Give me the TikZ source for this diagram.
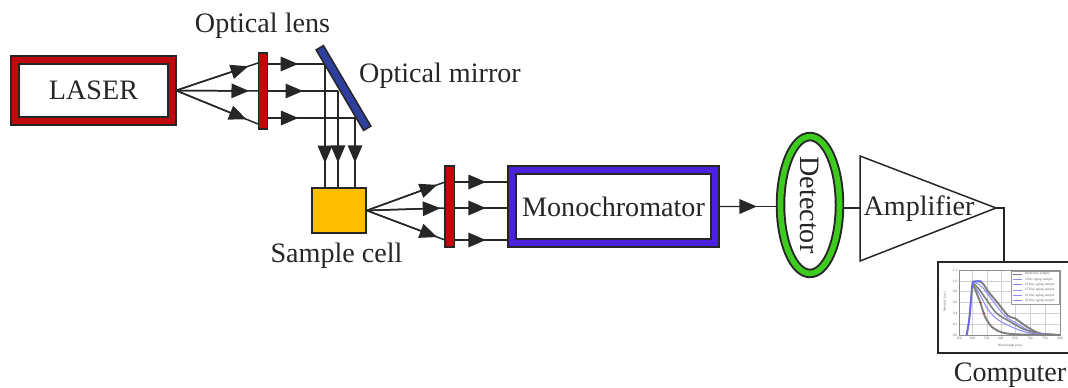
\documentclass[tikz,border=0pt]{standalone}
\usepackage{fontspec}
\setmainfont{Liberation Serif}
\usetikzlibrary{shapes,arrows.meta,calc}
\definecolor{lasered}{HTML}{BE0A0A}
\definecolor{mirrorblue}{HTML}{2F3F9E}
\definecolor{monoblue}{HTML}{4A22DC}
\definecolor{detgreen}{HTML}{3CCB1E}
\definecolor{cellyellow}{HTML}{FFBE00}
\tikzset{every node/.style={align=center,inner sep=0pt,text=black!85}}
\tikzset{band/.style={draw=black!85,line width=1.1pt,double=#1,double distance=3.2pt,fill=white,outer sep=0.08cm}}
\tikzset{lens/.style={rectangle,draw=black!85,fill=lasered,minimum width=0.19cm,minimum height=#1}}
\tikzset{raytip/.style={-{Triangle[length=0.35cm,width=0.29cm]}}}
\tikzset{grid line/.style={draw=black!18,line width=0.2pt}}
\tikzset{tiny/.style={font=\fontsize{2}{2.4}\selectfont,text=black!60}}
\newcommand{\ray}[3]{\draw (#1) -- (#2); \draw[raytip] (#1) -- ($(#1)!#3!(#2)$);}

\begin{document}
\begin{tikzpicture}[x=0.02cm,y=-0.02cm,line width=0.85pt,draw=black!85,font=\fontsize{16}{18}\selectfont]
\useasboundingbox (0,0) rectangle (1068,388);

\coordinate (laup) at (258,63);
\coordinate (lamid) at (258,91);
\coordinate (lalow) at (258,124);
\coordinate (raup) at (268,64);
\coordinate (ramid) at (268,91);
\coordinate (ralow) at (268,118);
\coordinate (mup) at (325,64);
\coordinate (mmid) at (338,91);
\coordinate (mlow) at (355,118);
\coordinate (sup) at (325,188);
\coordinate (smid) at (338,188);
\coordinate (slow) at (355,188);
\coordinate (lbup) at (445,182);
\coordinate (lbmid) at (445,208);
\coordinate (lblow) at (445,240);
\coordinate (rbup) at (454,182);
\coordinate (rbmid) at (454,208);
\coordinate (rblow) at (454,240);
\coordinate (tup) at (508,182);
\coordinate (tmid) at (508,208);
\coordinate (tlow) at (508,240);
\coordinate (ampin) at (860,208);
\coordinate (ampa) at (860,156);
\coordinate (ampb) at (860,261);
\coordinate (ampc) at (996,208);
\coordinate (ampout) at (1004,208);

\node[rectangle,band=lasered,minimum width=3.14cm,minimum height=1.22cm](laser) at (93.5,90.5) {LASER};
\node[rectangle,draw=black!85,fill=cellyellow,minimum width=1.08cm,minimum height=0.9cm](sample) at (339,210.5) {};
\node[rectangle,band=monoblue,minimum width=4.06cm,minimum height=1.46cm](mono) at (613.5,206.5) {Monochromator};
\node[ellipse,band=detgreen,rotate=-90,minimum width=2.48cm,minimum height=1.18cm](detector) at (810,205) {Detector};
\node[rectangle,draw=black!85,fill=white,line width=1.1pt,minimum width=2.64cm,minimum height=1.82cm](computer) at (1004,307.5) {};
\coordinate (detin) at (detector.south |- mono.east);
\coordinate (detout) at (detector.north |- ampin);

\ray{laser.east}{laup}{0.88}
\ray{laser.east}{lamid}{0.89}
\ray{laser.east}{lalow}{0.86}
\ray{raup}{mup}{0.53}
\ray{ramid}{mmid}{0.50}
\ray{ralow}{mlow}{0.35}
\ray{mup}{sup}{0.80}
\ray{mmid}{smid}{0.74}
\ray{mlow}{slow}{0.64}
\ray{sample.east}{lbup}{0.90}
\ray{sample.east}{lbmid}{0.94}
\ray{sample.east}{lblow}{0.90}
\ray{rbup}{tup}{0.59}
\ray{rbmid}{tmid}{0.59}
\ray{rblow}{tlow}{0.59}
\ray{mono.east}{detin}{0.66}
\draw (detout) -- (ampin);
\draw (ampa) -- (ampb) -- (ampc) -- cycle;
\draw (ampc) -- (ampout) -- (computer.north);

\node[lens=1.52cm](lensa) at (263,91) {};
\node[lens=1.62cm](lensb) at (449.5,206.5) {};
\node[rectangle,draw=black!85,fill=mirrorblue,rotate=-59.5,minimum width=1.87cm,minimum height=0.17cm](mirror) at (343.5,88) {};

\node(lenslabel) at (262.5,26) {Optical lens};
\node(mirrorlabel) at (440,76) {Optical mirror};
\node(samplelabel) at (336.5,256) {Sample cell};
\node(amplabel) at (919,209) {Amplifier};
\node(complabel) at (1010,375) {Computer};

\begin{scope}[shift={(930,255)},x=0.00667cm,y=-0.00667cm]
\foreach \x in {127,170,212,255,300,345} \draw[grid line] (\x,45) -- (\x,240);
\foreach \y in {78,110,143,175,208} \draw[grid line] (88,\y) -- (390,\y);
\draw[draw=black!45,line width=0.3pt] (88,45) rectangle (390,240);
\draw[gray,line width=1.1pt] plot[smooth] coordinates {(110,240) (118,190) (127,90) (132,80) (155,82) (175,110) (200,140) (235,183) (255,190) (290,215) (330,235) (390,240)};
\draw[blue!45,line width=0.6pt] plot[smooth] coordinates {(127,90) (135,82) (160,100) (190,140) (225,183) (260,205) (310,232) (390,240)};
\draw[gray,line width=0.9pt] plot[smooth] coordinates {(130,85) (145,100) (170,135) (200,175) (240,200) (280,222) (330,236) (390,240)};
\draw[blue!45,line width=0.6pt] plot[smooth] coordinates {(130,88) (150,120) (175,165) (205,195) (250,218) (300,234) (390,240)};
\draw[gray,line width=1.1pt] plot[smooth] coordinates {(130,90) (150,140) (165,185) (185,215) (215,232) (260,238) (390,240)};
\draw[blue!60,line width=0.8pt] plot[smooth] coordinates {(110,240) (118,190) (127,90) (132,80) (155,78)};
\fill[red!80!black] (152,143) circle (2.5) (162,175) circle (2.5);
\draw[draw=black!40,fill=white,line width=0.3pt] (245,48) rectangle (388,148);
\foreach \y/\t in {57/Reference sample,73/3 Day aging sample,89/10 Day aging sample,105/15 Day aging sample,121/20 Day aging sample,137/30 Day aging sample} \node[tiny,anchor=west](legend\y) at (282,\y) {\t};
\foreach \y in {73,89,105,121,137} \draw[blue!45,line width=0.4pt] (250,\y) -- (276,\y);
\draw[gray,line width=0.5pt] (250,57) -- (276,57);
\foreach \y/\t in {45/1.2,78/1.0,110/0.8,143/0.6,175/0.4,208/0.2,240/0.0} \node[tiny,anchor=east](ytick\y) at (84,\y) {\t};
\foreach \x/\t in {88/450,127/500,170/550,212/600,255/650,300/700,345/750,390/800} \node[tiny](xtick\x) at (\x,250) {\t};
\node[tiny](xname) at (240,272) {Wavelength (nm)};
\node[tiny,rotate=90](yname) at (44,140) {Intensity (a.u.)};
\end{scope}
\end{tikzpicture}
\end{document}
